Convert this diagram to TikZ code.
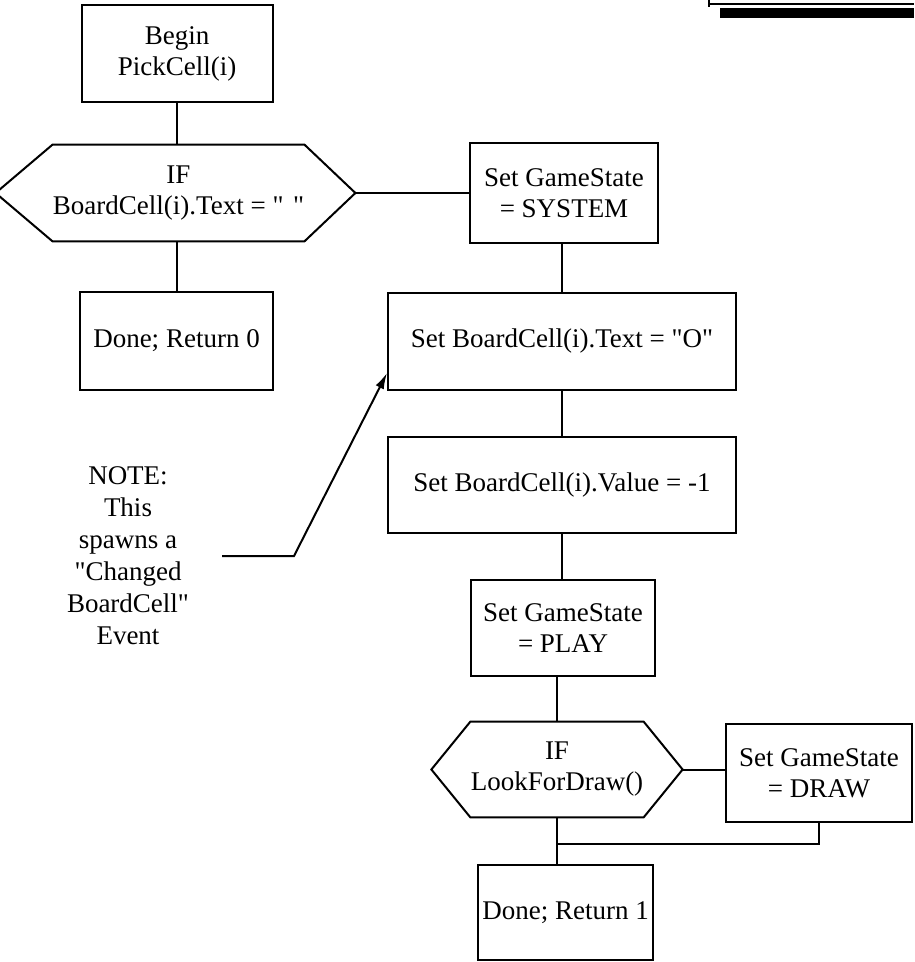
\documentclass[tikz,border=0pt]{standalone}
\usepackage{fontspec}
\setmainfont{Liberation Serif}[Ligatures=TeXOff]
\usetikzlibrary{calc,arrows.meta}
\begin{document}
\begin{tikzpicture}[x=0.5pt,y=-0.5pt,
  every node/.style={font=\fontsize{13.5}{15.5}\selectfont},
  box/.style={draw, line width=1pt, align=center, inner sep=0pt},
  core/.style={align=center, inner sep=0pt},
  link/.style={line width=1pt},
  pointer/.style={line width=1pt,-{Latex[length=8pt,width=4.5pt]}}]
\useasboundingbox (0,0) rectangle (914,962);

% rule at the top right
\draw[line width=0.8pt] (708,4) -- (914,4);
\draw[line width=0.6pt] (709,0) -- (709,7);
\fill (720,8) rectangle (914,18);

% left column
\node[box, minimum width=95.5pt, minimum height=48.5pt] (begin) at (177,53.5) {Begin\\PickCell(i)};
\node[core, minimum width=113.5pt, minimum height=48pt] (h1) at (178.5,193) {IF\\BoardCell(i).Text = "\hspace{0.35em}"};
\coordinate (h1r) at ($(h1.east)+(51,0)$);
\coordinate (h1l) at ($(h1.west)+(-57,0)$);
\draw[link] (h1.north west) -- (h1.north east) -- (h1r) -- (h1.south east)
  -- (h1.south west) -- (h1l) -- cycle;
\node[box, minimum width=96.5pt, minimum height=49pt] (done0) at (176.5,341) {Done; Return 0};

% note
\node[align=center, font=\fontsize{13.5}{16}\selectfont] (note) at (128,556)
  {NOTE:\\This\\spawns a\\"Changed\\BoardCell"\\Event};

% right column
\node[box, minimum width=94pt, minimum height=50pt] (sys) at (564,193) {Set GameState\\= SYSTEM};
\node[box, minimum width=174pt, minimum height=48.5pt] (txt) at (562,341.5) {Set BoardCell(i).Text = "O"};
\node[box, minimum width=174pt, minimum height=48pt] (val) at (562,485) {Set BoardCell(i).Value = -1};
\node[box, minimum width=92pt, minimum height=48pt] (play) at (563,628) {Set GameState\\= PLAY};
\node[core, minimum width=81pt, minimum height=47.5pt] (h2) at (557,769.5) {IF\\LookForDraw()};
\coordinate (h2r) at ($(h2.east)+(39,0)$);
\coordinate (h2l) at ($(h2.west)+(-39,0)$);
\draw[link] (h2.north west) -- (h2.north east) -- (h2r) -- (h2.south east)
  -- (h2.south west) -- (h2l) -- cycle;
\node[box, minimum width=93pt, minimum height=49pt] (drw) at (819,773) {Set GameState\\= DRAW};
\node[box, minimum width=87.5pt, minimum height=47.5pt] (done1) at (565.5,912.5) {Done; Return 1};

% connectors
\draw[link] (begin.south) -- (begin.south |- h1.north);
\draw[link] (done0.north |- h1.south) -- (done0.north);
\draw[link] (h1r) -- (h1r -| sys.west);
\draw[link] (txt.north |- sys.south) -- (txt.north);
\draw[link] (txt.south) -- (val.north);
\draw[link] (val.south) -- (val.south |- play.north);
\draw[link] (h2.north |- play.south) -- (h2.north);
\draw[link] (h2r) -- (h2r -| drw.west);
\draw[link] (h2.south) -- (h2.south |- done1.north);
\draw[link] (drw.south) |- ($(h2.south)+(0,27)$);

% note pointer
\coordinate (ns) at (222,556);
\coordinate (nb) at (294,556);
\coordinate (tip) at ($(txt.south west)+(0,-18)$);
\draw[pointer] (ns) -- (nb) -- (tip);
\end{tikzpicture}
\end{document}
